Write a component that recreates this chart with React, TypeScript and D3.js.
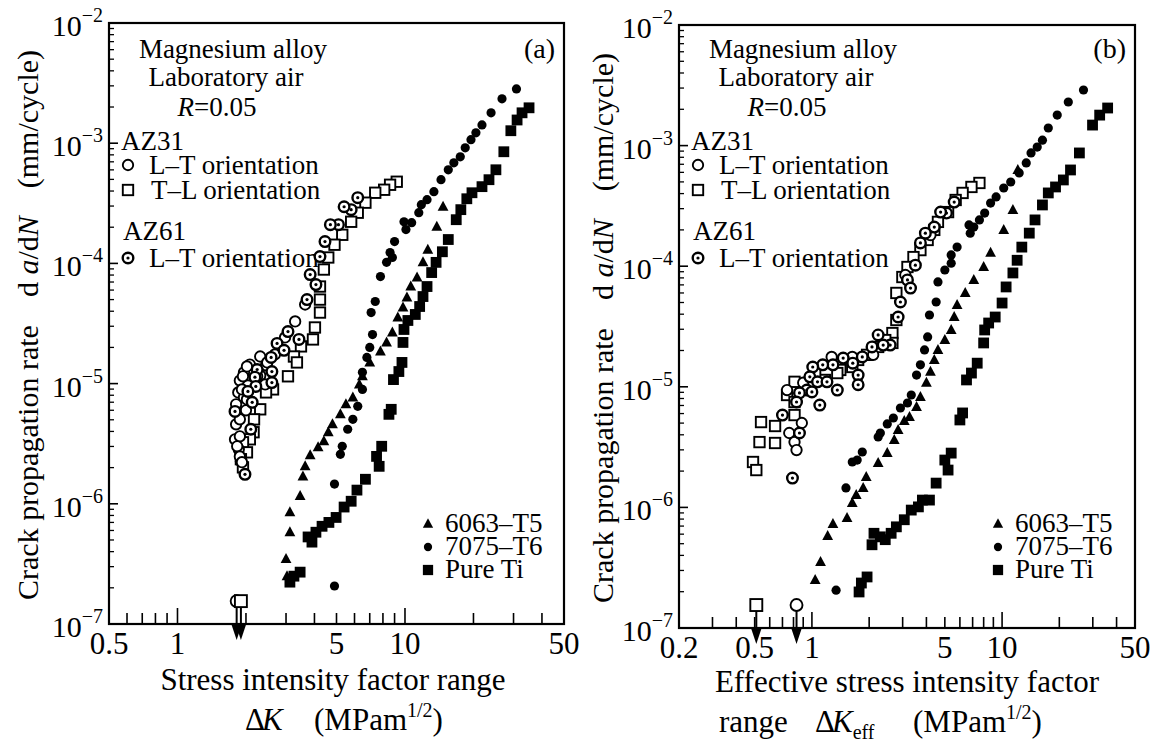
import React from 'react';
import * as d3 from 'd3';

type Pt = [number, number];

// ---------------- Panel (a): da/dN vs ΔK ----------------
const a6063T5: Pt[] = [
  [14.7, 2.96e-4], [13.8, 2.02e-4], [12.6, 1.3e-4], [12.0, 1.02e-4], [11.3, 7.62e-5], [10.6, 6.42e-5],
  [10.2, 5.2e-5], [9.8, 4.3e-5], [9.3, 3.55e-5], [8.8, 2.66e-5], [8.3, 2.2e-5], [7.8, 1.85e-5],
  [7.0, 1.5e-5], [6.5, 1.15e-5], [6.3, 9.85e-6], [5.9, 7.68e-6], [5.5, 6.72e-6], [5.2, 5.55e-6],
  [4.8, 4.58e-6], [4.6, 3.94e-6], [4.4, 3.31e-6], [4.15, 2.95e-6], [3.83, 2.53e-6], [3.64, 2.05e-6],
  [3.56, 1.69e-6], [3.46, 1.16e-6], [3.12, 8.5e-7], [3.12, 5.8e-7], [3.0, 3.47e-7], [3.03, 2.5e-7],
];
const a7075T6: Pt[] = [
  [30.9, 2.83e-3], [26.7, 2.34e-3], [23.9, 1.79e-3], [21.8, 1.42e-3], [20.5, 1.22e-3], [19.5, 1.07e-3],
  [18.4, 9.16e-4], [17.5, 7.71e-4], [16.4, 6.87e-4], [15.5, 6.01e-4], [14.4, 4.97e-4], [13.4, 3.95e-4],
  [12.5, 3.39e-4], [11.8, 3.08e-4], [11.5, 2.64e-4], [10.7, 2.18e-4], [9.9, 2.22e-4], [10.1, 1.91e-4],
  [9.0, 1.52e-4], [8.6, 1.23e-4], [8.8, 1.12e-4], [8.3, 1.02e-4], [7.8, 7.77e-5], [7.4, 4.82e-5],
  [7.1, 3.9e-5], [7.2, 2.56e-5], [7.0, 2.0e-5], [6.8, 1.65e-5], [6.5, 1.24e-5], [6.5, 8.95e-6],
  [6.2, 6.47e-6], [5.9, 5.04e-6], [5.6, 4.17e-6], [5.3, 3.01e-6], [5.2, 2.58e-6], [4.9, 1.46e-6],
  [4.9, 2.07e-7],
];
const aPureTi: Pt[] = [
  [35.1, 1.97e-3], [32.7, 1.79e-3], [31.1, 1.56e-3], [29.2, 1.27e-3], [27.2, 8.49e-4], [25.1, 6.01e-4],
  [23.4, 4.97e-4], [21.8, 4.35e-4], [19.7, 3.87e-4], [18.7, 3.45e-4], [17.6, 2.8e-4], [16.8, 2.31e-4],
  [15.5, 1.58e-4], [14.6, 1.25e-4], [13.7, 1.02e-4], [13.1, 8.39e-5], [12.5, 6.42e-5], [12.0, 5.3e-5],
  [11.6, 4.38e-5], [11.1, 3.76e-5], [10.3, 3.35e-5], [9.9, 2.82e-5], [9.8, 2.2e-5], [9.7, 1.5e-5],
  [9.4, 1.26e-5], [8.9, 1.08e-5], [8.7, 6.11e-6], [8.5, 5.55e-6], [7.9, 3.01e-6], [7.5, 2.48e-6],
  [7.7, 2.05e-6], [6.7, 1.6e-6], [6.15, 1.3e-6], [5.8, 1.05e-6], [5.4, 9.4e-7], [4.98, 7.7e-7],
  [4.63, 7.0e-7], [4.32, 6.5e-7], [4.06, 5.8e-7], [3.75, 5.3e-7], [3.9, 4.8e-7], [3.46, 2.7e-7],
  [3.25, 2.5e-7], [3.12, 2.23e-7],
];
const aAZ31TL: Pt[] = [
  [9.2, 4.78e-4], [8.6, 4.51e-4], [8.1, 4.1e-4], [7.4, 3.87e-4], [6.7, 3.2e-4], [6.2, 2.64e-4],
  [5.8, 2.22e-4], [5.3, 1.73e-4], [4.9, 1.43e-4], [4.6, 1.12e-4], [4.4, 8.89e-5], [4.23, 6.42e-5],
  [4.23, 5.0e-5], [4.23, 3.9e-5], [4.02, 2.93e-5], [3.94, 2.33e-5], [3.49, 2.04e-5], [3.25, 1.68e-5],
  [3.35, 1.5e-5], [3.06, 1.15e-5], [2.63, 8.95e-6], [2.45, 8.45e-6], [2.31, 6.11e-6], [2.17, 5.04e-6],
  [2.16, 3.94e-6], [2.08, 3.44e-6], [1.94, 3.25e-6], [2.02, 2.68e-6], [1.9, 2.35e-6], [1.94, 2.01e-6],
];
const aAZ31LT: Pt[] = [
  [3.64, 4.55e-5], [3.29, 3.29e-5], [2.97, 2.42e-5], [2.68, 1.75e-5], [2.45, 1.42e-5], [2.31, 1.17e-5],
  [2.08, 1.44e-5], [1.96, 1.24e-5], [1.88, 1.06e-5], [2.04, 9.66e-6], [1.85, 8.45e-6], [1.96, 7.68e-6],
  [1.81, 6.72e-6], [2.0, 5.99e-6], [1.81, 4.58e-6], [1.79, 3.44e-6], [1.86, 2.84e-6], [1.9, 2.26e-6],
  [2.31, 1.68e-5], [2.48, 1.5e-5], [2.02, 1.39e-5], [1.94, 1.15e-5], [2.24, 1.15e-5], [2.43, 9.85e-6],
  [1.92, 8.95e-6], [2.02, 7.39e-6], [1.88, 5.04e-6], [1.88, 3.64e-6], [1.83, 3.01e-6], [1.88, 2.48e-6],
  [1.92, 2.22e-6],
];
const aAZ61LT: Pt[] = [
  [6.2, 3.52e-4], [5.8, 2.8e-4], [5.4, 2.96e-4], [5.1, 2.1e-4], [4.7, 2.1e-4], [4.45, 1.52e-4],
  [4.23, 1.14e-4], [3.83, 8.07e-5], [4.06, 6.67e-5], [3.71, 5.0e-5], [3.06, 2.71e-5], [3.42, 2.33e-5],
  [2.74, 2.16e-5], [2.94, 1.89e-5], [2.58, 1.65e-5], [2.24, 1.31e-5], [2.6, 1.26e-5], [2.19, 1.13e-5],
  [2.21, 9.48e-6], [2.6, 1.02e-5], [2.04, 8.61e-6], [2.13, 6.98e-6], [1.79, 5.87e-6], [2.1, 4.17e-6],
  [1.98, 1.76e-6],
];
// threshold values (marker + arrow): [ΔK, da/dN]
const aThresholdLT: Pt = [1.82, 1.55e-7];
const aThresholdTL: Pt = [1.9, 1.55e-7];

// ---------------- Panel (b): da/dN vs ΔKeff ----------------
const b6063T5: Pt[] = [
  [12.1, 6.28e-4], [11.4, 2.92e-4], [10.2, 2.0e-4], [8.7, 1.29e-4], [8.0, 9.85e-5], [7.1, 7.69e-5],
  [6.4, 6.0e-5], [5.8, 4.77e-5], [5.6, 3.79e-5], [5.4, 2.96e-5], [5.0, 2.44e-5], [4.6, 2.02e-5],
  [4.4, 1.67e-5], [4.2, 1.33e-5], [4.0, 1.08e-5], [3.72, 8.23e-6], [3.55, 6.8e-6], [3.26, 5.62e-6],
  [3.06, 5.2e-6], [2.84, 4.38e-6], [2.71, 3.62e-6], [2.49, 2.82e-6], [2.23, 2.33e-6], [1.93, 1.79e-6],
  [1.86, 1.45e-6], [1.71, 1.27e-6], [1.63, 1.09e-6], [1.53, 8.17e-7], [1.29, 7.28e-7], [1.21, 5.79e-7],
  [1.11, 3.52e-7], [1.04, 2.5e-7],
];
const b7075T6: Pt[] = [
  [26.8, 2.89e-3], [22.3, 2.3e-3], [19.5, 1.79e-3], [17.5, 1.4e-3], [16.3, 1.11e-3], [15.3, 9.73e-4],
  [14.2, 8.69e-4], [13.4, 7.18e-4], [12.3, 5.93e-4], [11.1, 4.99e-4], [10.2, 4.45e-4], [9.3, 3.75e-4],
  [8.7, 3.34e-4], [8.1, 2.76e-4], [7.6, 2.42e-4], [7.1, 2.11e-4], [6.7, 2.2e-4], [6.8, 1.88e-4],
  [5.8, 1.44e-4], [5.4, 1.24e-4], [5.4, 1.06e-4], [5.0, 9.3e-5], [4.6, 7.4e-5], [4.5, 5.05e-5],
  [4.15, 3.94e-5], [4.06, 2.59e-5], [3.91, 2.02e-5], [3.72, 1.52e-5], [3.55, 1.25e-5], [3.33, 8.55e-6],
  [3.18, 7.34e-6], [2.92, 6.67e-6], [2.68, 5.51e-6], [2.49, 4.92e-6], [2.29, 4.14e-6], [2.23, 3.84e-6],
  [1.84, 2.88e-6], [1.73, 2.47e-6], [1.63, 2.38e-6], [1.51, 1.45e-6], [1.34, 2.06e-7],
];
const bPureTi: Pt[] = [
  [35.9, 2.05e-3], [32.6, 1.79e-3], [29.9, 1.48e-3], [25.5, 8.69e-4], [22.9, 6.28e-4], [21.0, 5.19e-4],
  [19.1, 4.54e-4], [17.5, 4.05e-4], [16.3, 3.22e-4], [14.9, 2.42e-4], [13.9, 1.88e-4], [12.7, 1.44e-4],
  [12.0, 1.12e-4], [11.4, 8.79e-5], [10.5, 6.73e-5], [10.0, 4.95e-5], [9.2, 3.79e-5], [8.5, 3.38e-5],
  [8.1, 2.96e-5], [8.0, 2.31e-5], [7.4, 1.57e-5], [6.9, 1.3e-5], [6.5, 1.14e-5], [6.2, 6.07e-6],
  [6.0, 5.31e-6], [5.4, 2.82e-6], [5.0, 2.47e-6], [5.2, 2.04e-6], [4.5, 1.59e-6], [4.15, 1.15e-6],
  [3.81, 1.15e-6], [3.63, 1.01e-6], [3.33, 9.5e-7], [3.06, 7.9e-7], [2.78, 6.9e-7], [2.61, 6.1e-7],
  [2.43, 5.4e-7], [2.29, 5.7e-7], [2.12, 6.1e-7], [2.07, 4.9e-7], [1.95, 2.65e-7], [1.82, 2.36e-7],
  [1.77, 1.99e-7],
];
const bAZ31TL: Pt[] = [
  [7.6, 4.9e-4], [6.9, 4.54e-4], [6.2, 4.05e-4], [5.7, 3.54e-4], [5.2, 2.81e-4], [4.6, 2.33e-4],
  [4.4, 2.0e-4], [4.06, 1.65e-4], [3.72, 1.36e-4], [3.42, 1.19e-4], [3.18, 9.85e-5], [2.99, 8.13e-5],
  [2.78, 6.0e-5], [2.78, 3.58e-5], [2.65, 2.79e-5], [2.65, 2.31e-5], [2.43, 2.44e-5], [2.23, 2.14e-5],
  [1.95, 1.84e-5], [1.75, 1.67e-5], [1.63, 1.46e-5], [1.41, 1.38e-5], [1.36, 1.3e-5], [1.17, 1.14e-5],
  [1.04, 1.33e-5], [0.81, 1.1e-5], [0.74, 8.55e-6], [0.81, 7.48e-6], [0.81, 5.83e-6], [0.54, 5.1e-6],
  [0.64, 4.73e-6], [0.53, 3.48e-6], [0.64, 3.42e-6], [0.49, 2.38e-6], [0.51, 2.04e-6],
];
const bAZ31LT: Pt[] = [
  [4.2, 1.81e-4], [3.1, 8.45e-5], [2.1, 1.84e-5], [1.63, 1.77e-5], [1.27, 1.77e-5], [0.9, 1.08e-5],
  [0.74, 9.4e-6], [0.885, 5.01e-6], [0.76, 4.14e-6], [0.81, 3.48e-6], [0.83, 2.99e-6],
];
const bAZ61LT: Pt[] = [
  [5.6, 3.4e-4], [5.1, 2.76e-4], [4.75, 2.81e-4], [4.4, 2.11e-4], [3.95, 1.88e-4], [3.72, 1.56e-4],
  [3.5, 1.02e-4], [3.18, 7.69e-5], [3.3, 6.59e-5], [2.92, 5.05e-5], [2.84, 3.79e-5], [2.58, 2.22e-5],
  [2.23, 2.69e-5], [2.37, 2.22e-5], [2.07, 2.14e-5], [1.84, 1.77e-5], [1.64, 1.57e-5], [1.75, 1.25e-5],
  [1.75, 1.04e-5], [1.46, 1.73e-5], [1.29, 1.52e-5], [1.14, 1.52e-5], [1.01, 1.46e-5], [0.975, 1.21e-5],
  [0.94, 9.4e-6], [1.07, 1.1e-5], [1.2, 1.1e-5], [1.36, 9.4e-6], [1.1, 7.06e-6], [1.0, 9.06e-6],
  [0.86, 8.89e-6], [0.83, 7.48e-6], [0.7, 5.83e-6], [0.86, 4.14e-6], [0.79, 1.75e-6],
];
const bThresholdTL: Pt = [0.51, 1.55e-7];
const bThresholdLT: Pt = [0.83, 1.55e-7];

// ---------------- Axes ----------------
const aXTicks = [0.6, 0.7, 0.8, 0.9, 1, 2, 3, 4, 5, 6, 7, 8, 9, 10, 20, 30, 40];
const bXTicks = [0.3, 0.4, 0.5, 0.6, 0.7, 0.8, 0.9, 1, 2, 3, 4, 5, 6, 7, 8, 9, 10, 20, 30, 40];
const aXLabels = [0.5, 1, 5, 10, 50];
const bXLabels = [0.2, 0.5, 1, 5, 10, 50];
const yExponents = [-2, -3, -4, -5, -6, -7];
const legendItems = ['6063–T5', '7075–T6', 'Pure Ti'];

const FONT = '"Liberation Serif", "Times New Roman", Times, serif';

type MarkType = 'ft' | 'fc' | 'fs' | 'oc' | 'os' | 'dc';

function Mark({ t, x, y, s = 1 }: { t: MarkType; x: number; y: number; s?: number }) {
  switch (t) {
    case 'ft':
      return <path d={`M${x},${y - 6 * s}L${x + 5.4 * s},${y + 4 * s}L${x - 5.4 * s},${y + 4 * s}Z`} fill="#000" />;
    case 'fc':
      return <circle cx={x} cy={y} r={4.6 * s} fill="#000" />;
    case 'fs':
      return <rect x={x - 5.4 * s} y={y - 5.4 * s} width={10.8 * s} height={10.8 * s} fill="#000" />;
    case 'oc':
      return <circle cx={x} cy={y} r={5.2 * s} fill="#fff" stroke="#000" strokeWidth={1.9} />;
    case 'os':
      return <rect x={x - 5.2 * s} y={y - 5.2 * s} width={10.4 * s} height={10.4 * s} fill="#fff" stroke="#000" strokeWidth={1.9} />;
    case 'dc':
      return (
        <g>
          <circle cx={x} cy={y} r={5.3 * s} fill="#fff" stroke="#000" strokeWidth={2.4} />
          <circle cx={x} cy={y} r={1.6 * s} fill="#000" />
        </g>
      );
  }
  return null;
}

interface PanelProps {
  left: number; right: number; top: number; bottom: number;
  xMin: number; xTicks: number[]; xLabels: number[];
  tag: string;
  s6063: Pt[]; s7075: Pt[]; sTi: Pt[]; sTL: Pt[]; sLT: Pt[]; s61: Pt[];
  thrTL: Pt; thrLT: Pt;
}

function Panel(p: PanelProps) {
  const x = d3.scaleLog().domain([p.xMin, 50]).range([p.left, p.right]);
  const y = d3.scaleLog().domain([1e-7, 1e-2]).range([p.bottom, p.top]);
  const L = p.left;
  const yMinor: number[] = [];
  for (let e = -7; e <= -3; e++) for (let m = 2; m <= 9; m++) yMinor.push(m * Math.pow(10, e));
  const fmt = (v: number) => String(v);
  const isDecade = (v: number) => Math.abs(Math.log10(v) - Math.round(Math.log10(v))) < 1e-9;
  const arrow = (pt: Pt, t: MarkType) => {
    const cx = x(pt[0]);
    const cy = y(pt[1]);
    return (
      <g key={t}>
        <line x1={cx} x2={cx} y1={cy + 5} y2={p.bottom + 2} stroke="#000" strokeWidth={2} />
        <path d={`M${cx - 5},${p.bottom + 1}L${cx + 5},${p.bottom + 1}L${cx},${p.bottom + 16}Z`} fill="#000" />
        <Mark t={t} x={cx} y={cy} s={1.15} />
      </g>
    );
  };
  return (
    <g fontFamily={FONT} fill="#000">
      {/* ticks */}
      {p.xTicks.map((v) => (
        <line key={'xt' + v} x1={x(v)} x2={x(v)} y1={p.bottom} y2={p.bottom - (isDecade(v) ? 16 : 11)} stroke="#000" strokeWidth={1.6} />
      ))}
      {yMinor.map((v) => (
        <line key={'ym' + v} x1={L} x2={L + 5} y1={y(v)} y2={y(v)} stroke="#000" strokeWidth={1.3} />
      ))}
      {yExponents.map((e) => (
        <line key={'yM' + e} x1={L} x2={L + 9} y1={y(Math.pow(10, e))} y2={y(Math.pow(10, e))} stroke="#000" strokeWidth={1.6} />
      ))}
      {/* tick labels */}
      {p.xLabels.map((v) => (
        <text key={'xl' + v} x={x(v)} y={p.bottom + 30} fontSize={31} textAnchor="middle">{fmt(v)}</text>
      ))}
      {yExponents.map((e) => (
        <text key={'yl' + e} x={L - 6} y={y(Math.pow(10, e)) + 13} fontSize={30} textAnchor="end">
          <tspan>10</tspan>
          <tspan dy={-14} fontSize={20}>{'−' + Math.abs(e)}</tspan>
        </text>
      ))}
      {/* header texts */}
      <text x={L + 124} y={58} fontSize={27} textAnchor="middle">Magnesium alloy</text>
      <text x={L + 117} y={86} fontSize={27} textAnchor="middle">Laboratory air</text>
      <text x={L + 108} y={116} fontSize={27} textAnchor="middle">
        <tspan fontStyle="italic">R</tspan>=0.05
      </text>
      <text x={p.right - 9} y={58} fontSize={28} textAnchor="end">{p.tag}</text>
      <text x={L + 12} y={150} fontSize={27}>AZ31</text>
      <Mark t="oc" x={L + 19} y={165} />
      <text x={L + 40} y={174} fontSize={27}>L–T orientation</text>
      <Mark t="os" x={L + 19} y={190} />
      <text x={L + 42} y={199} fontSize={27}>T–L orientation</text>
      <text x={L + 14} y={240} fontSize={27}>AZ61</text>
      <Mark t="dc" x={L + 19} y={258} />
      <text x={L + 40} y={267} fontSize={27}>L–T orientation</text>
      {/* bottom-right legend */}
      {legendItems.map((name, i) => (
        <g key={name}>
          <Mark t={(['ft', 'fc', 'fs'] as MarkType[])[i]} x={L + 319} y={524 + i * 23} s={i === 1 ? 0.9 : 0.95} />
          <text x={L + 336} y={532 + i * 23} fontSize={27}>{name}</text>
        </g>
      ))}
      {/* data */}
      {p.s6063.map((d, i) => <Mark key={'t' + i} t="ft" x={x(d[0])} y={y(d[1])} />)}
      {p.s7075.map((d, i) => <Mark key={'c' + i} t="fc" x={x(d[0])} y={y(d[1])} />)}
      {p.sTi.map((d, i) => <Mark key={'s' + i} t="fs" x={x(d[0])} y={y(d[1])} />)}
      {p.sTL.map((d, i) => <Mark key={'os' + i} t="os" x={x(d[0])} y={y(d[1])} />)}
      {p.sLT.map((d, i) => <Mark key={'oc' + i} t="oc" x={x(d[0])} y={y(d[1])} />)}
      {p.s61.map((d, i) => <Mark key={'dc' + i} t="dc" x={x(d[0])} y={y(d[1])} />)}
      {arrow(p.thrLT, 'oc')}
      {arrow(p.thrTL, 'os')}
      {/* frame */}
      <rect x={p.left} y={p.top} width={p.right - p.left} height={p.bottom - p.top} fill="none" stroke="#000" strokeWidth={2.2} />
    </g>
  );
}

function YTitle({ x, y0 }: { x: number; y0: number }) {
  return (
    <text transform={`translate(${x},${y0}) rotate(-90)`} fontFamily={FONT} fontSize={30}>
      <tspan>Crack propagation rate</tspan>
      <tspan dx={28}>d </tspan>
      <tspan fontStyle="italic">a</tspan>
      <tspan>/d</tspan>
      <tspan fontStyle="italic">N</tspan>
      <tspan dx={28}>(mm/cycle)</tspan>
    </text>
  );
}

export default function App() {
  return (
    <svg width={1159} height={747} viewBox="0 0 1159 747" style={{ position: 'absolute', left: 0, top: 0, background: '#fff' }}>
      <rect x={0} y={0} width={1159} height={747} fill="#fff" />
      <Panel left={109} right={564} top={23} bottom={624} xMin={0.5} xTicks={aXTicks} xLabels={aXLabels} tag="(a)"
        s6063={a6063T5} s7075={a7075T6} sTi={aPureTi} sTL={aAZ31TL} sLT={aAZ31LT} s61={aAZ61LT}
        thrTL={aThresholdTL} thrLT={aThresholdLT} />
      <Panel left={679} right={1135} top={25} bottom={628} xMin={0.2} xTicks={bXTicks} xLabels={bXLabels} tag="(b)"
        s6063={b6063T5} s7075={b7075T6} sTi={bPureTi} sTL={bAZ31TL} sLT={bAZ31LT} s61={bAZ61LT}
        thrTL={bThresholdTL} thrLT={bThresholdLT} />
      <YTitle x={38} y0={600} />
      <YTitle x={613} y0={603} />
      <g fontFamily={FONT} fontSize={31}>
        <text x={333} y={690} textAnchor="middle">Stress intensity factor range</text>
        <text y={730}>
          <tspan x={245}>Δ</tspan>
          <tspan x={262} fontStyle="italic">K</tspan>
          <tspan x={314}>(MPam</tspan>
          <tspan dy={-13} fontSize={20}>1/2</tspan>
          <tspan dy={13}>)</tspan>
        </text>
        <text x={907} y={692} textAnchor="middle">Effective stress intensity factor</text>
        <text y={732}>
          <tspan x={719}>range</tspan>
          <tspan x={815}>Δ</tspan>
          <tspan x={832} fontStyle="italic">K</tspan>
          <tspan dy={7} fontSize={20}>eff</tspan>
          <tspan x={913} dy={-7}>(MPam</tspan>
          <tspan dy={-13} fontSize={20}>1/2</tspan>
          <tspan dy={13}>)</tspan>
        </text>
      </g>
    </svg>
  );
}
